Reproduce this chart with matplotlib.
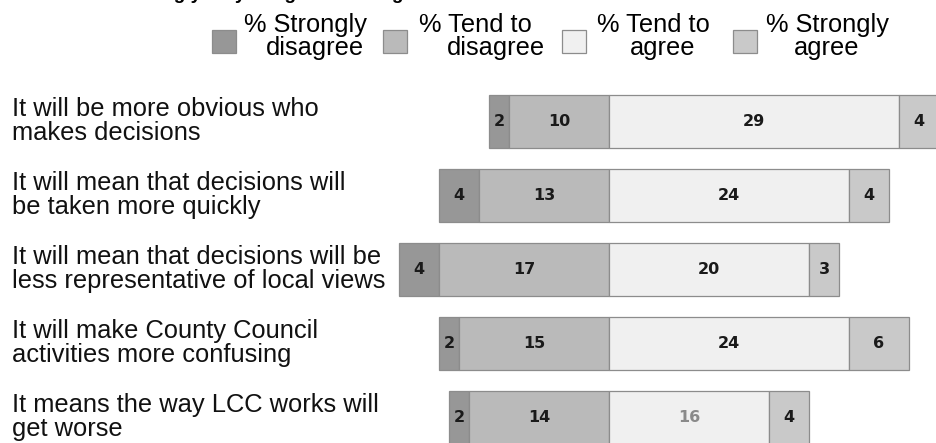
import numpy as np
import matplotlib
matplotlib.use("Agg")
import matplotlib.pyplot as plt
from matplotlib.patches import Rectangle
from matplotlib.transforms import blended_transform_factory

# survey statements, top to bottom
statements = [
    "It will be more obvious who\nmakes decisions",
    "It will mean that decisions will\nbe taken more quickly",
    "It will mean that decisions will be\nless representative of local views",
    "It will make County Council\nactivities more confusing",
    "It means the way LCC works will\nget worse",
]
strongly_disagree = [2, 4, 4, 2, 2]
tend_disagree = [10, 13, 17, 15, 14]
tend_agree = [29, 24, 20, 24, 16]
strongly_agree = [4, 4, 3, 6, 4]

legend_line1 = ["% Strongly", "% Tend to", "% Tend to", "% Strongly"]
legend_line2 = ["disagree", "disagree", "agree", "agree"]
colours = ["#979797", "#bababa", "#f0f0f0", "#c9c9c9"]
edge = "#8c8c8c"

W, H = 936, 443
fig = plt.figure(figsize=(W / 100, H / 100), dpi=100)
ax = fig.add_axes([0, 0, 1, 1])
ax.set_xlim(-60.9, 32.7)       # 10 px per percent, zero at x=609
ax.set_ylim(4.35, -1.64)       # rows 74 px apart
ax.axis("off")

def px(x, y):
    return x / W, 1 - y / H

sd = np.array(strongly_disagree)
td = np.array(tend_disagree)
ta = np.array(tend_agree)
sa = np.array(strongly_agree)
rows = np.arange(len(statements))
bh = 0.717

segments = [
    (sd, -(td + sd)),
    (td, -td),
    (ta, np.zeros(len(ta))),
    (sa, ta),
]
for (vals, lefts), col in zip(segments, colours):
    ax.barh(rows, vals, left=lefts, height=bh, color=col, edgecolor=edge,
            linewidth=0.9, zorder=2)
    for r, v, l in zip(rows, vals, lefts):
        c = "#1a1a1a"
        if col == colours[2] and r == 4:
            c = "#8a8a8a"
        ax.text(l + v / 2, r, str(v), ha="center", va="center", fontsize=11.5,
                fontweight="bold", family="DejaVu Sans", color=c, zorder=3)

# statement labels on the left
tr = blended_transform_factory(fig.transFigure, ax.transData)
for r, s in zip(rows, statements):
    ax.text(12 / W, r, s, transform=tr, ha="left", va="center",
            fontsize=18.4, family="Liberation Sans", linespacing=1.02,
            color="#111111")

# legend drawn by hand: box + two centred lines
box_x = [212, 383, 562, 733]
l1_cx = [306, 475, 653, 828]
l2_cx = [315, 496, 663, 827]
for i in range(4):
    x0, y0 = px(box_x[i], 53)
    fig.patches.append(Rectangle((x0, y0), 24 / W, 23 / H, transform=fig.transFigure,
                                 facecolor=colours[i], edgecolor=edge, linewidth=0.9))
    fig.text(*px(l1_cx[i], 32), legend_line1[i], ha="center", va="baseline",
             fontsize=18.3, family="Liberation Sans")
    fig.text(*px(l2_cx[i], 55), legend_line2[i], ha="center", va="baseline",
             fontsize=18.3, family="Liberation Sans")

# question heading, sits above the top edge so only descenders show
fig.text(*px(81, -1), "How strongly do you agree or disagree",
         ha="left", va="baseline", fontsize=13.7, fontweight="bold",
         family="Liberation Sans")

fig.savefig("out.png", dpi=100)
